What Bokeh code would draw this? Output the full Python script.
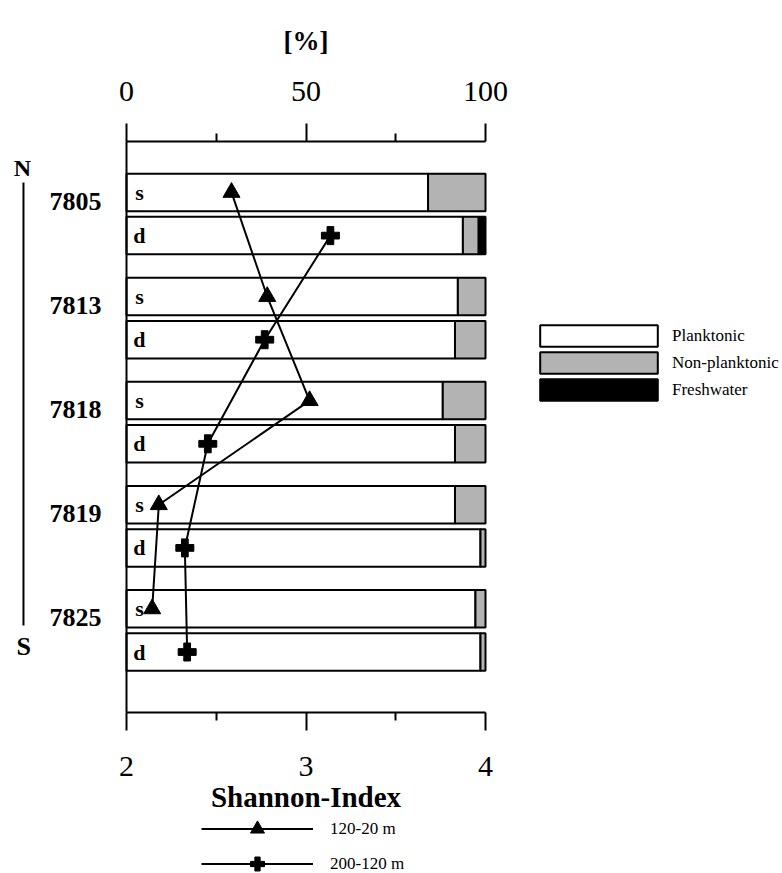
from bokeh.plotting import figure
from bokeh.models import (Range1d, LinearAxis, FixedTicker, Legend, LegendItem,
                          Label, Arrow, ColumnDataSource)
from bokeh.core.properties import value
from bokeh.embed import file_html
from bokeh.resources import INLINE

# ---------------- data ----------------
stations = ["7805", "7813", "7818", "7819", "7825"]
depths = ["s", "d"]
# rows: 7805 s, 7805 d, 7813 s, 7813 d, ... (percent)
planktonic = [84.0, 93.7, 92.3, 91.5, 88.1, 91.5, 91.5, 98.6, 97.2, 98.6]
non_planktonic = [16.0, 4.4, 7.7, 8.5, 11.9, 8.5, 8.5, 1.4, 2.8, 1.4]
freshwater = [0.0, 1.9, 0.0, 0.0, 0.0, 0.0, 0.0, 0.0, 0.0, 0.0]
# Shannon index
shannon_120_20 = [2.585, 2.784, 3.02, 2.18, 2.143]    # surface rows (s)
shannon_200_120 = [3.136, 2.77, 2.453, 2.325, 2.338]  # deep rows (d)
pct_ticks = [0, 50, 100]
pct_minor = [25, 75]
sh_ticks = [2, 3, 4]
sh_minor = [2.5, 3.5]

FONT = "Liberation Serif"
W, H = 782, 873
offset = {"s": -0.087, "d": 0.328}
bar_h = 0.36

# layout: plot box 126..485 px horizontally, 141..712 px vertically
px_per_pct = 3.59
px_per_sh = 179.5
px_per_row = 104.1
y_top, y_bot = -0.576, 4.909
x_start = -126 / px_per_pct
sh_start = 2 - 126 / px_per_sh
y_end = y_top - 141 / px_per_row
y_start = y_bot + (H - 712) / px_per_row

row_y, row_lab = [], []
for k, st in enumerate(stations):
    for d in depths:
        row_y.append(k + offset[d])
        row_lab.append(d)
s_y = [k + offset["s"] for k in range(len(stations))]
d_y = [k + offset["d"] for k in range(len(stations))]

left_np = planktonic
right_np = [a + b for a, b in zip(planktonic, non_planktonic)]
right_fw = [a + b + c for a, b, c in zip(planktonic, non_planktonic, freshwater)]

p = figure(width=W, height=H, min_border=0,
           x_range=Range1d(x_start, x_start + W / px_per_pct),
           y_range=Range1d(y_start, y_end),
           x_axis_location="above", output_backend="svg",
           toolbar_location=None)
p.extra_x_ranges = {"sh": Range1d(sh_start, sh_start + W / px_per_sh)}
p.xgrid.visible = False
p.ygrid.visible = False
p.outline_line_color = None
p.background_fill_color = "white"
p.border_fill_color = "white"

# top axis (percent)
ax = p.xaxis[0]
ax.fixed_location = y_top
ax.bounds = (0, 100)
ax.ticker = FixedTicker(ticks=pct_ticks, minor_ticks=pct_minor)
ax.major_tick_out = 18
ax.major_tick_in = 0
ax.minor_tick_out = 8
ax.minor_tick_in = 0
ax.axis_line_width = 2
ax.major_tick_line_width = 2
ax.minor_tick_line_width = 2
ax.major_label_text_font = FONT
ax.major_label_text_font_size = "30px"
ax.major_label_text_color = "black"
ax.major_label_standoff = 23
ax.axis_label = "[%]"
ax.axis_label_text_font = FONT
ax.axis_label_text_font_style = "bold"
ax.axis_label_text_font_size = "27px"
ax.axis_label_text_color = "black"
ax.axis_label_standoff = 23

# bottom axis (Shannon)
bx = LinearAxis(x_range_name="sh", fixed_location=y_bot, bounds=(2, 4),
                ticker=FixedTicker(ticks=sh_ticks, minor_ticks=sh_minor))
bx.major_tick_out = 18
bx.major_tick_in = 0
bx.minor_tick_out = 8
bx.minor_tick_in = 0
bx.axis_line_width = 2
bx.major_tick_line_width = 2
bx.minor_tick_line_width = 2
bx.major_label_text_font = FONT
bx.major_label_text_font_size = "30px"
bx.major_label_text_color = "black"
bx.major_label_standoff = 27
bx.axis_label = "Shannon-Index"
bx.axis_label_text_font = FONT
bx.axis_label_text_font_style = "bold"
bx.axis_label_text_font_size = "29px"
bx.axis_label_text_color = "black"
bx.axis_label_standoff = 1
p.add_layout(bx, "below")

# left axis (stations)
ly = p.yaxis[0]
ly.fixed_location = 0
ly.bounds = (y_top, y_bot)
ly.ticker = FixedTicker(ticks=list(range(len(stations))))
ly.major_label_overrides = {i: s for i, s in enumerate(stations)}
ly.major_tick_line_color = None
ly.minor_tick_line_color = None
ly.major_tick_out = 0
ly.major_tick_in = 0
ly.axis_line_width = 2
ly.major_label_text_font = FONT
ly.major_label_text_font_style = "bold"
ly.major_label_text_font_size = "26px"
ly.major_label_text_color = "black"
ly.major_label_standoff = 25

# bars
r_pl = p.hbar(y=row_y, left=0, right=planktonic, height=bar_h,
              fill_color="white", line_color="black", line_width=2)
r_np = p.hbar(y=row_y, left=left_np, right=right_np, height=bar_h,
              fill_color="#b3b3b3", line_color="black", line_width=2)
fw_src = ColumnDataSource(dict(
    y=[y for y, f in zip(row_y, freshwater) if f > 0],
    l=[l for l, f in zip(right_np, freshwater) if f > 0],
    r=[r for r, f in zip(right_fw, freshwater) if f > 0]))
r_fw = p.hbar(y="y", left="l", right="r", height=bar_h, source=fw_src,
              fill_color="black", line_color="black", line_width=2)

# s / d labels
p.text(x=[3.6] * len(row_y), y=row_y, text=row_lab, text_font=value(FONT),
       text_font_style="bold", text_font_size="22px", text_align="center",
       text_baseline="middle", text_color="black")

# Shannon lines
l1 = p.line(x=shannon_120_20, y=s_y, x_range_name="sh", line_color="black",
            line_width=2)
m1 = p.scatter(x=shannon_120_20, y=s_y, x_range_name="sh", marker="triangle",
               size=17, fill_color="black", line_color="black")
l2 = p.line(x=shannon_200_120, y=d_y, x_range_name="sh", line_color="black",
            line_width=2)
m2 = p.scatter(x=shannon_200_120, y=d_y, x_range_name="sh", marker="plus",
               size=18, fill_color="black", line_color="black")

# N / S indicator
p.add_layout(Label(x=-28.97, y=-0.317, text="N", text_font=FONT,
                   text_font_style="bold", text_font_size="24px",
                   text_align="center", text_baseline="middle",
                   text_color="black"))
p.add_layout(Label(x=-28.6, y=4.275, text="S", text_font=FONT,
                   text_font_style="bold", text_font_size="26px",
                   text_align="center", text_baseline="middle",
                   text_color="black"))
p.add_layout(Arrow(end=None, x_start=-28.7, y_start=-0.183, x_end=-28.7,
                   y_end=4.073, line_width=2, line_color="black"))

# legends
leg1 = Legend(items=[LegendItem(label="Planktonic", renderers=[r_pl]),
                     LegendItem(label="Non-planktonic", renderers=[r_np]),
                     LegendItem(label="Freshwater", renderers=[r_fw])],
              location=(525, 470), glyph_width=147, glyph_height=27,
              spacing=0, padding=0, margin=0, label_standoff=0,
              label_height=20,
              label_text_font=FONT, label_text_font_size="17px",
              label_text_color="black",
              border_line_color=None, background_fill_alpha=0)
p.add_layout(leg1)
leg2 = Legend(items=[LegendItem(label="120-20 m", renderers=[l1, m1]),
                     LegendItem(label="200-120 m", renderers=[l2, m2])],
              location=(201, -8), glyph_width=112, glyph_height=35,
              spacing=0, padding=0, margin=0, label_standoff=17,
              label_text_font=FONT, label_text_font_size="17px",
              label_text_color="black",
              border_line_color=None, background_fill_alpha=0)
p.add_layout(leg2)

open("out.html", "w").write(file_html(p, INLINE))
